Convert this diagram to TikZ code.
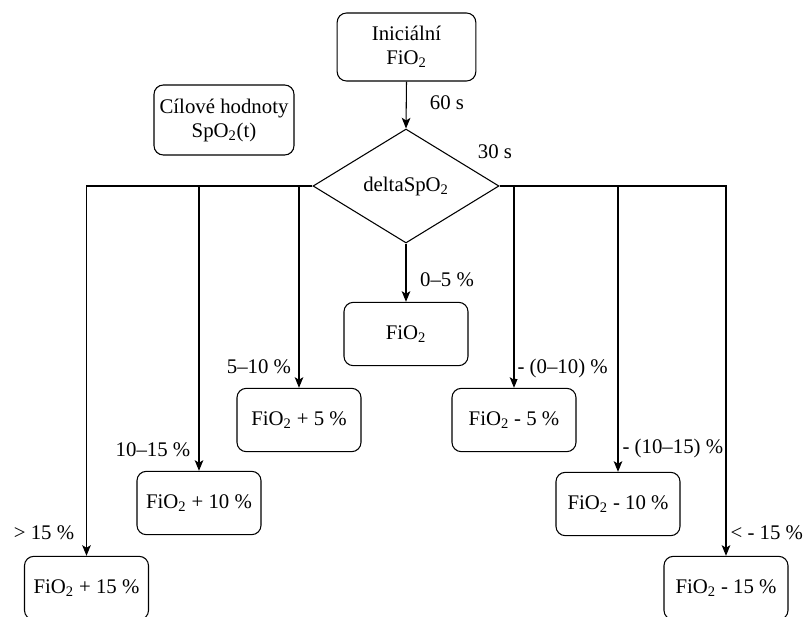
\documentclass[tikz,border=0pt]{standalone}
\usepackage{fontspec}
\setmainfont{Liberation Serif}
\usetikzlibrary{shapes.geometric,arrows.meta}
\begin{document}
\begin{tikzpicture}[x=0.75pt,y=-0.75pt,
  every node/.style={font=\fontsize{15.6}{18}\selectfont},
  box/.style={draw, rounded corners=7pt, line width=0.8pt, minimum width=93pt, minimum height=47.5pt, inner sep=0pt, align=center},
  dec/.style={draw, diamond, line width=0.8pt, minimum width=139.5pt, minimum height=85.5pt, inner sep=0pt},
  conn/.style={line width=0.8pt, -{Stealth[length=8pt,width=6.5pt,inset=2pt]}},
  lab/.style={inner sep=1pt, fill=white}]
\useasboundingbox (0,0) rectangle (804,617);
\node[box, minimum width=104pt, minimum height=51pt] (init) at (406.5,47) {Iniciální\\FiO\textsubscript{2}};
\node[box, minimum width=105pt, minimum height=52.5pt] (target) at (224,120) {Cílové hodnoty\\SpO\textsubscript{2}(t)};
\node[dec] (dia) at (406,186) {deltaSpO\textsubscript{2}};
\node[box] (f0) at (406,334) {FiO\textsubscript{2}};
\node[box] (p5) at (299,420) {FiO\textsubscript{2} + 5 \%};
\node[box] (m5) at (514,420) {FiO\textsubscript{2} - 5 \%};
\node[box] (p10) at (199,503) {FiO\textsubscript{2} + 10 \%};
\node[box] (m10) at (618,504) {FiO\textsubscript{2} - 10 \%};
\node[box] (p15) at (86.5,588) {FiO\textsubscript{2} + 15 \%};
\node[box] (m15) at (726,588) {FiO\textsubscript{2} - 15 \%};
\draw[conn] (init.south) -- (dia.north);
\draw[conn] (dia.south) -- (f0.north);
\draw[conn] (dia.west) -| (p5.north);
\draw[conn] (dia.west) -| (p10.north);
\draw[conn] (dia.west) -| (p15.north);
\draw[conn] (dia.east) -| (m5.north);
\draw[conn] (dia.east) -| (m10.north);
\draw[conn] (dia.east) -| (m15.north);
\node[lab] (l60) at (447,103) {60 s};
\node[lab] (l30) at (495,152) {30 s};
\node[lab] (l05) at (447,280) {0–5 \%};
\node[lab] (l510) at (259,367) {5–10 \%};
\node[lab, anchor=west] (lm010) at (516,368) {- (0–10) \%};
\node[lab] (l1015) at (153,450) {10–15 \%};
\node[lab, anchor=west] (lm1015) at (621,448) {- (10–15) \%};
\node[lab] (l15) at (44,533) {> 15 \%};
\node[lab, anchor=west] (lm15) at (729,533) {< - 15 \%};
\end{tikzpicture}
\end{document}
